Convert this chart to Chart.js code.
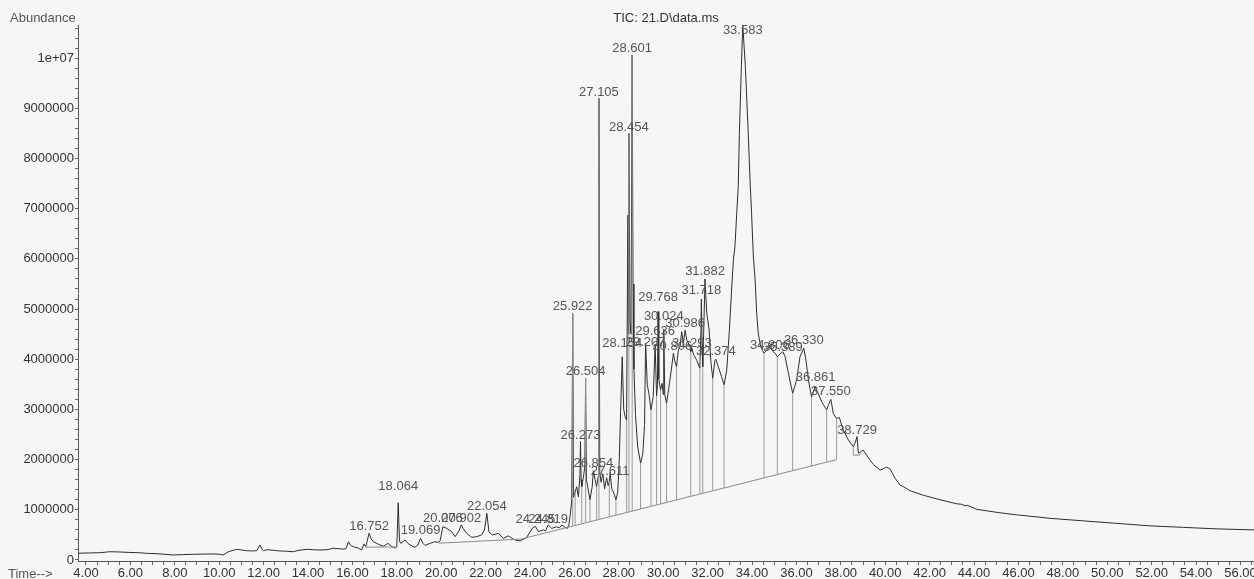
<!DOCTYPE html>
<html>
<head>
<meta charset="utf-8">
<script src="https://cdn.jsdelivr.net/npm/chart.js@4.4.1/dist/chart.umd.min.js"></script>
<style>
  html, body { margin: 0; padding: 0; background: #f6f6f6; }
  canvas { display: block; }
</style>
</head>
<body>
<canvas id="ticChart" width="1254" height="579"></canvas>
<script>
// TIC: 21.D\data.ms - retention time (min) vs abundance
const times = [
  3.64, 4.10, 4.63, 5.08, 5.50, 5.98, 6.40, 6.73, 7.20, 7.93, 8.40, 8.83, 9.30, 9.73, 10.00, 10.18, 10.41, 10.79, 11.00, 11.24,
  11.50, 11.69, 11.84, 11.92, 11.99, 12.15, 12.29, 12.50, 12.74, 13.00, 13.34, 13.55, 13.72, 13.95, 14.20, 14.54, 14.85, 15.14, 15.40, 15.59,
  15.72, 15.82, 15.92, 16.04, 16.25, 16.42, 16.52, 16.60, 16.752, 16.85, 16.94, 17.10, 17.24, 17.40, 17.60, 17.80, 17.95, 18.00, 18.064, 18.12,
  18.18, 18.37, 18.50, 18.60, 18.82, 18.95, 19.069, 19.18, 19.27, 19.50, 19.72, 19.85, 19.95, 20.076, 20.25, 20.47, 20.62, 20.78, 20.902, 21.00,
  21.15, 21.37, 21.60, 21.82, 21.95, 22.054, 22.15, 22.30, 22.58, 22.80, 23.03, 23.20, 23.32, 23.55, 23.85, 24.00, 24.12, 24.245, 24.38, 24.60,
  24.70, 24.819, 24.98, 25.20, 25.32, 25.43, 25.58, 25.68, 25.75, 25.82, 25.88, 25.922, 25.96, 26.03, 26.10, 26.18, 26.25, 26.273, 26.30, 26.33,
  26.42, 26.47, 26.504, 26.54, 26.60, 26.70, 26.80, 26.854, 26.93, 27.00, 27.07, 27.105, 27.14, 27.20, 27.28, 27.36, 27.45, 27.52, 27.57, 27.611, 27.68,
  27.72, 27.80, 27.87, 27.95, 28.02, 28.08, 28.154, 28.22, 28.28, 28.35, 28.41, 28.43, 28.454, 28.50, 28.55, 28.601, 28.64, 28.68, 28.75, 28.85,
  28.98, 29.08, 29.16, 29.207, 29.28, 29.36, 29.45, 29.55, 29.636, 29.70, 29.74, 29.768, 29.80, 29.88, 29.95, 30.00, 30.024, 30.07, 30.15, 30.28,
  30.38, 30.46, 30.53, 30.60, 30.68, 30.76, 30.83, 30.91, 30.986, 31.06, 31.21, 31.24, 31.293, 31.36, 31.51, 31.65, 31.70, 31.718, 31.75, 31.78,
  31.82, 31.882, 31.96, 32.07, 32.14, 32.23, 32.33, 32.374, 32.48, 32.63, 32.74, 32.86, 32.98, 33.08, 33.16, 33.23, 33.31, 33.38, 33.43, 33.52,
  33.583, 33.70, 33.83, 33.91, 33.98, 34.06, 34.14, 34.21, 34.28, 34.39, 34.54, 34.66, 34.806, 34.95, 35.04, 35.14, 35.25, 35.389, 35.49, 35.64,
  35.83, 36.01, 36.16, 36.33, 36.43, 36.54, 36.68, 36.84, 36.98, 37.14, 37.36, 37.45, 37.55, 37.66, 37.81, 37.93, 38.11, 38.34, 38.56, 38.66,
  38.729, 38.79, 38.86, 39.00, 39.24, 39.47, 39.77, 40.07, 40.22, 40.44, 40.67, 40.82, 41.12, 41.72, 42.47, 43.22, 43.45, 43.59, 43.70, 44.12,
  45.17, 45.92, 47.42, 48.92, 50.43, 51.93, 53.43, 54.93, 56.61
];
const abundance = [
  135000, 140000, 145000, 165000, 160000, 150000, 145000, 133000, 125000, 100000, 108000, 113000, 118000, 120000, 115000, 100000, 165000, 213000, 200000, 185000,
  180000, 185000, 300000, 220000, 185000, 205000, 200000, 190000, 180000, 175000, 165000, 190000, 200000, 213000, 205000, 200000, 205000, 235000, 225000, 215000,
  230000, 365000, 290000, 265000, 240000, 200000, 320000, 265000, 532000, 420000, 365000, 330000, 300000, 275000, 330000, 260000, 240000, 260000, 1140000, 380000,
  330000, 400000, 330000, 300000, 253000, 300000, 432000, 330000, 290000, 333000, 365000, 350000, 380000, 663000, 630000, 565000, 465000, 560000, 700000, 620000,
  530000, 452000, 465000, 500000, 600000, 930000, 560000, 500000, 530000, 430000, 480000, 430000, 400000, 380000, 450000, 560000, 640000, 670000, 565000, 600000,
  580000, 700000, 630000, 663000, 640000, 697000, 650000, 630000, 700000, 930000, 1200000, 4910000, 1250000, 1350000, 1460000, 1260000, 1700000, 2360000, 1600000, 1460000,
  1700000, 1860000, 3620000, 1600000, 1460000, 1200000, 1460000, 1780000, 1600000, 1460000, 1660000, 9200000, 1750000, 1550000, 1720000, 1420000, 1640000, 1480000, 1560000, 1740000, 1420000,
  1390000, 1300000, 1200000, 1350000, 2000000, 2950000, 4050000, 3000000, 2860000, 2790000, 6870000, 4500000, 8500000, 4800000, 4500000, 10060000, 5500000, 3800000, 2900000, 2250000,
  1930000, 2120000, 2700000, 4320000, 3500000, 3300000, 2990000, 3260000, 4300000, 3260000, 3500000, 4950000, 3600000, 3390000, 3520000, 3300000, 4600000, 3300000, 3120000, 3520000,
  3850000, 4120000, 3950000, 3850000, 4180000, 4250000, 4550000, 4320000, 4580000, 4380000, 4250000, 4150000, 4220000, 4100000, 3980000, 3820000, 4600000, 5200000, 4300000, 3850000,
  4500000, 5600000, 4920000, 4580000, 3980000, 3620000, 3980000, 4000000, 3850000, 3650000, 3490000, 3780000, 4580000, 5380000, 5980000, 6240000, 6900000, 7440000, 8500000, 9830000,
  10660000, 9830000, 8500000, 7570000, 6900000, 6040000, 5580000, 4910000, 4520000, 4250000, 4120000, 4180000, 4280000, 4150000, 4120000, 4050000, 4100000, 4150000, 4050000, 3720000,
  3320000, 3590000, 4050000, 4220000, 3980000, 3590000, 3250000, 3450000, 3320000, 3150000, 2990000, 3100000, 3200000, 2920000, 2820000, 2840000, 2590000, 2390000, 2260000, 2350000,
  2460000, 2130000, 2140000, 2190000, 2040000, 1900000, 1790000, 1850000, 1810000, 1630000, 1490000, 1460000, 1380000, 1290000, 1200000, 1120000, 1110000, 1080000, 1090000, 1010000,
  940000, 900000, 830000, 780000, 730000, 680000, 650000, 620000, 600000
];

// integration baselines (null = gap between segments)
const baseTimes = [16.60, 18.00, 18.00, 19.90, 23.60, 37.81, 37.81, 38.56, 38.86];
const baseValues = [255000, 260000, null, 335000, 417000, 2000000, null, 2090000, 2090000];

// vertical peak-boundary lines: foot on the baseline, top on the trace
const dropTimes = [25.922, 26.03, 26.33, 26.504, 26.70, 27.00, 27.105, 27.57, 27.87, 28.35, 28.454, 28.601, 28.98, 29.45, 29.70, 29.88,
  30.15, 30.60, 31.24, 31.65, 31.78, 32.23, 32.74, 34.54, 35.14, 35.83, 36.68, 37.36, 37.81, 38.56, 38.86];
const dropTops = [4910000, 1350000, 1460000, 3620000, 1200000, 1460000, 9200000, 1560000, 1200000, 2790000, 8500000, 10060000, 1930000, 2990000, 3260000, 3390000,
  3120000, 3850000, 4150000, 3820000, 3850000, 3620000, 3490000, 4120000, 4050000, 3320000, 3250000, 2990000, 2820000, 2260000, 2140000];
const dropFeet = [676000, 688000, 721000, 741000, 762000, 796000, 807000, 859000, 893000, 946000, 958000, 974000, 1016000, 1069000, 1097000, 1117000,
  1147000, 1197000, 1268000, 1314000, 1328000, 1378000, 1435000, 1636000, 1703000, 1779000, 1874000, 1950000, 2000000, 2090000, 2090000];

// peak retention-time labels and the abundance their text sits on
const peakNames = ['16.752', '18.064', '19.069', '20.076', '20.902', '22.054', '24.245', '24.819', '25.922', '26.273', '26.504', '26.854',
  '27.105', '27.611', '28.154', '28.454', '28.601', '29.207', '29.636', '29.768', '30.024', '30.806', '30.986', '31.293', '31.718', '31.882',
  '32.374', '33.583', '34.806', '35.389', '36.330', '36.861', '37.550', '38.729'];
const peakTimes = [16.752, 18.064, 19.069, 20.076, 20.902, 22.054, 24.245, 24.819, 25.922, 26.273, 26.504, 26.854,
  27.105, 27.611, 28.154, 28.454, 28.601, 29.207, 29.636, 29.768, 30.024, 30.406, 30.986, 31.293, 31.718, 31.882,
  32.374, 33.583, 34.806, 35.389, 36.330, 36.861, 37.550, 38.729];
const peakLabelAt = [478000, 1280000, 400000, 640000, 640000, 876000, 610000, 610000, 4860000, 2300000, 3560000, 1740000,
  9120000, 1570000, 4130000, 8430000, 10000000, 4150000, 4360000, 5040000, 4660000, 4060000, 4530000, 4130000, 5190000, 5570000,
  3960000, 10360000, 4090000, 4050000, 4180000, 3450000, 3170000, 2390000];

// axis ticks: labelled every 1000000 / 2 min, minor marks in between
const yTickStep = 200000;
const yTickLast = 10600000;
const xTickStep = 0.5;

const FONT = '"Liberation Sans", Arial, sans-serif';

const trace = times.map((t, i) => ({ x: t, y: abundance[i] }));
const baseline = baseTimes.map((t, i) => ({ x: t, y: baseValues[i] }));
const drops = [];
dropTimes.forEach((t, i) => {
  drops.push({ x: t, y: dropFeet[i] }, { x: t, y: dropTops[i] }, { x: t, y: null });
});

const chartText = {
  id: 'chartText',
  afterDatasetsDraw(chart) {
    const { ctx, chartArea, scales } = chart;
    ctx.save();
    ctx.font = '13px ' + FONT;
    ctx.fillStyle = '#555';
    ctx.textAlign = 'center';
    ctx.textBaseline = 'bottom';
    peakNames.forEach((name, i) => {
      const x = scales.x.getPixelForValue(peakTimes[i]);
      const y = scales.y.getPixelForValue(peakLabelAt[i]) - 3;
      ctx.fillText(name, x, y);
    });
    ctx.fillStyle = '#333';
    ctx.textBaseline = 'middle';
    ctx.fillText('TIC: 21.D\\data.ms', (chartArea.left + chartArea.right) / 2, 18);
    ctx.textAlign = 'left';
    ctx.fillStyle = '#555';
    ctx.fillText('Abundance', 10, 18);
    ctx.fillText('Time-->', 8, 574);
    ctx.restore();
  }
};

new Chart(document.getElementById('ticChart'), {
  type: 'line',
  data: {
    datasets: [
      { data: drops, borderColor: '#9a9a9a', borderWidth: 1, pointRadius: 0, spanGaps: false },
      { data: baseline, borderColor: '#8a8a8a', borderWidth: 1, pointRadius: 0, spanGaps: false },
      { data: trace, borderColor: '#2e2e2e', borderWidth: 1, pointRadius: 0, tension: 0 }
    ]
  },
  options: {
    responsive: false,
    animation: false,
    devicePixelRatio: 1,
    layout: { padding: { top: 25, left: 0, right: 0, bottom: 0 } },
    plugins: {
      legend: { display: false },
      tooltip: { enabled: false }
    },
    scales: {
      x: {
        type: 'linear',
        min: 3.64,
        max: 56.61,
        afterFit: (scale) => { scale.height = 18; },
        grid: { drawOnChartArea: false, tickLength: 4, tickColor: '#666' },
        border: { color: '#555' },
        ticks: {
          stepSize: xTickStep,
          includeBounds: false,
          autoSkip: false,
          maxRotation: 0,
          padding: 1,
          color: '#333',
          font: { family: FONT, size: 13 },
          callback: (v) => Math.abs(v / 2 - Math.round(v / 2)) < 1e-6 ? v.toFixed(2) : ''
        }
      },
      y: {
        min: -20000,
        max: 10660000,
        afterFit: (scale) => { scale.width = 78; },
        afterBuildTicks: (scale) => {
          const ticks = [];
          for (let v = 0; v <= yTickLast; v += yTickStep) ticks.push({ value: v });
          scale.ticks = ticks;
        },
        grid: { drawOnChartArea: false, tickLength: 3, tickColor: '#666' },
        border: { color: '#555' },
        ticks: {
          autoSkip: false,
          padding: 1,
          color: '#333',
          font: { family: FONT, size: 13 },
          callback: (v) => {
            if (v % 1000000 !== 0) return '';
            return v === 10000000 ? '1e+07' : String(v);
          }
        }
      }
    }
  },
  plugins: [chartText]
});
</script>
</body>
</html>
